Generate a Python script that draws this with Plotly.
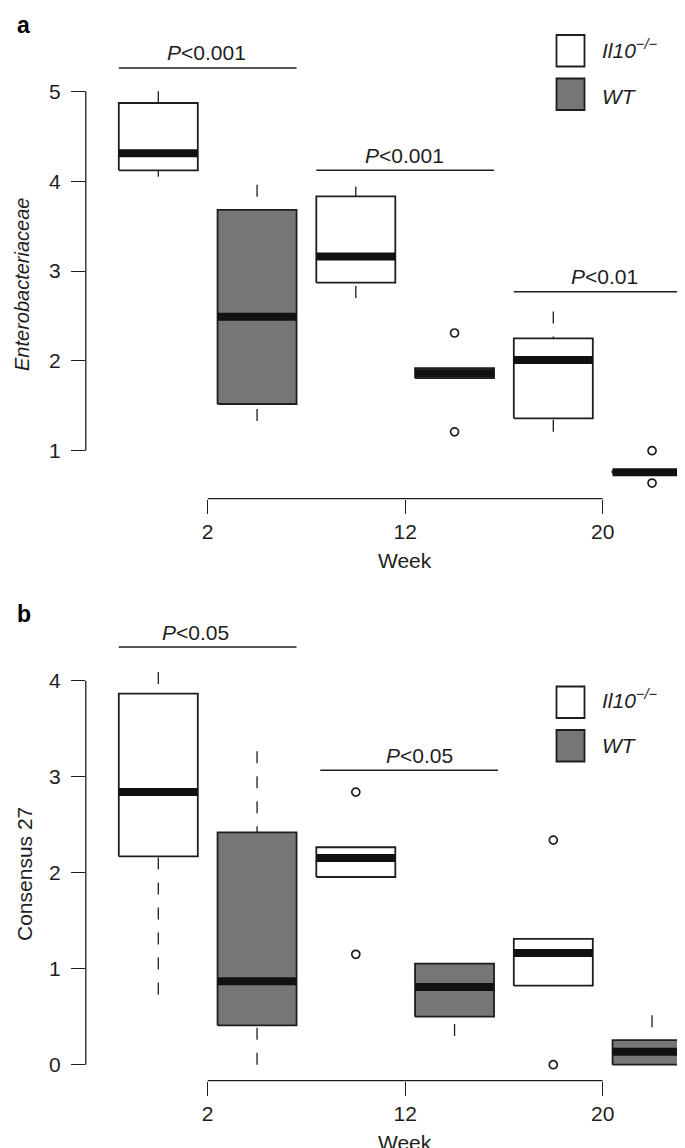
import plotly.graph_objects as go

W, H = 685, 1148
FONT = "Liberation Sans, Arial, sans-serif"
INK = "#1e1e1e"
GRAY = "#767678"

# ---------------- data ----------------
positions = [1, 2, 3, 4, 5, 6]
genotype = ["Il10", "WT", "Il10", "WT", "Il10", "WT"]
week_ticks = [1.5, 3.5, 5.5]
week_labels = ["2", "12", "20"]

# Panel a: Enterobacteriaceae
a_low = [4.05, 1.33, 2.70, 1.808, 1.21, 0.75]
a_q1 = [4.12, 1.52, 2.87, 1.808, 1.36, 0.75]
a_med = [4.31, 2.49, 3.16, 1.863, 2.01, 0.761]
a_q3 = [4.87, 3.68, 3.83, 1.918, 2.25, 0.772]
a_high = [5.00, 3.96, 3.94, 1.918, 2.55, 0.772]
a_out_pos = [4, 4, 6, 6]
a_out_val = [2.31, 1.21, 1.00, 0.64]
a_yticks = [1, 2, 3, 4, 5]
a_sig_x0 = [0.6, 2.6, 4.6]
a_sig_x1 = [2.4, 4.4, 6.45]
a_sig_y = [5.26, 4.12, 2.77]
a_sig_tx = [1.49, 3.49, 5.52]
a_sig_text = ["0.001", "0.001", "0.01"]

# Panel b: Consensus 27
b_low = [0.73, 0.0, 1.955, 0.30, 0.823, 0.0]
b_q1 = [2.17, 0.41, 1.955, 0.50, 0.823, 0.0]
b_med = [2.84, 0.87, 2.153, 0.81, 1.164, 0.135]
b_q3 = [3.865, 2.42, 2.265, 1.052, 1.31, 0.257]
b_high = [4.09, 3.265, 2.265, 1.052, 1.31, 0.515]
b_out_pos = [3, 3, 5, 5]
b_out_val = [2.84, 1.15, 2.34, 0.0]
b_yticks = [0, 1, 2, 3, 4]
b_sig_x0 = [0.6, 2.64]
b_sig_x1 = [2.4, 4.44]
b_sig_y = [4.35, 3.067]
b_sig_tx = [1.38, 3.64]
b_sig_text = ["0.05", "0.05"]

fill_for = {"Il10": "white", "WT": GRAY}

# ---------------- layout geometry (pixels) ----------------
x_left_px = 77.8
x_range = [0.2658, 6.4147]
# panel a: 1 -> 442.7px, 5 -> 83.3px
a_top_px, a_bot_px = 40.0, 490.7
a_ppu = (442.7 - 83.3) / 4
a_range = [1 - (a_bot_px - 442.7) / a_ppu, 1 + (442.7 - a_top_px) / a_ppu]
# panel b: 0 -> 1056.7px, 4 -> 672.7px
b_top_px, b_bot_px = 620.0, 1072.7
b_ppu = (1056.7 - 672.7) / 4
b_range = [0 - (b_bot_px - 1056.7) / b_ppu, 0 + (1056.7 - b_top_px) / b_ppu]


def py(px):
    return 1 - px / H


def pxx(px):
    return px / W


fig = go.Figure()
shapes = []
annotations = []


def add_panel(xa, ya, low, q1, med, q3, high, out_pos, out_val):
    for p, g, lo, a, m, b, hi in zip(positions, genotype, low, q1, med, q3, high):
        fig.add_trace(go.Scatter(
            x=[p - 0.4, p + 0.4, p + 0.4, p - 0.4, p - 0.4],
            y=[a, a, b, b, a], mode="lines", fill="toself",
            fillcolor=fill_for[g], line=dict(color=INK, width=1.8),
            xaxis=xa, yaxis=ya, hoverinfo="skip", showlegend=False))
        fig.add_trace(go.Scatter(
            x=[p - 0.4, p + 0.4], y=[m, m], mode="lines",
            line=dict(color="#111111", width=8),
            xaxis=xa, yaxis=ya, hoverinfo="skip", showlegend=False))
        for end, edge in ((lo, a), (hi, b)):
            if abs(end - edge) > 1e-9:
                fig.add_trace(go.Scatter(
                    x=[p, p], y=[end, edge], mode="lines",
                    line=dict(color=INK, width=1.3, dash="12px,13px"),
                    xaxis=xa, yaxis=ya, hoverinfo="skip", showlegend=False))
    fig.add_trace(go.Scatter(
        x=out_pos, y=out_val, mode="markers",
        marker=dict(symbol="circle-open", size=8, color=INK, line=dict(width=1.7)),
        xaxis=xa, yaxis=ya, hoverinfo="skip", showlegend=False, cliponaxis=False))


add_panel("x", "y", a_low, a_q1, a_med, a_q3, a_high, a_out_pos, a_out_val)
add_panel("x2", "y2", b_low, b_q1, b_med, b_q3, b_high, b_out_pos, b_out_val)


def sig(xr, yr, x0s, x1s, ys, txs, texts):
    for x0, x1, yv, tx, t in zip(x0s, x1s, ys, txs, texts):
        shapes.append(dict(type="line", xref=xr, yref=yr, x0=x0, x1=x1, y0=yv, y1=yv,
                           line=dict(color=INK, width=1.5)))
        annotations.append(dict(xref=xr, yref=yr, x=tx, y=yv, yshift=15,
                                text="<i>P</i>&lt;" + t, showarrow=False,
                                xanchor="center", yanchor="middle",
                                font=dict(family=FONT, size=21, color=INK)))


sig("x", "y", a_sig_x0, a_sig_x1, a_sig_y, a_sig_tx, a_sig_text)
sig("x2", "y2", b_sig_x0, b_sig_x1, b_sig_y, b_sig_tx, b_sig_text)

# R-style axis lines (span first to last tick only)
for xr, yr, yt in (("x", "y", a_yticks), ("x2", "y2", b_yticks)):
    shapes.append(dict(type="line", xref=xr, yref=yr + " domain", x0=week_ticks[0], x1=week_ticks[-1],
                       y0=0, y1=0, line=dict(color=INK, width=1.3)))
    shapes.append(dict(type="line", xref=xr + " domain", yref=yr, x0=0, x1=0,
                       y0=yt[0], y1=yt[-1], line=dict(color=INK, width=1.3)))


# legends
def legend(top1, top2, t1y, t2y):
    for top, col in ((top1, "white"), (top2, GRAY)):
        shapes.append(dict(type="rect", xref="paper", yref="paper",
                           x0=pxx(548.5), x1=pxx(576.5), y0=py(top + 31.5), y1=py(top),
                           fillcolor=col, line=dict(color=INK, width=1.8)))
    annotations.append(dict(xref="paper", yref="paper", x=pxx(592), y=py(t1y),
                            text="<i>Il10<sup>−/−</sup></i>", showarrow=False,
                            xanchor="left", yanchor="middle",
                            font=dict(family=FONT, size=21, color=INK)))
    annotations.append(dict(xref="paper", yref="paper", x=pxx(592), y=py(t2y),
                            text="<i>WT</i>", showarrow=False,
                            xanchor="left", yanchor="middle",
                            font=dict(family=FONT, size=21, color=INK)))


legend(27, 70.5, 41, 89)
legend(678.5, 722, 691, 737)

# panel letters
annotations.append(dict(xref="paper", yref="paper", x=pxx(16), y=py(17), text="<b>a</b>",
                        showarrow=False, xanchor="center", yanchor="middle",
                        font=dict(family=FONT, size=23, color="black")))
annotations.append(dict(xref="paper", yref="paper", x=pxx(16), y=py(606), text="<b>b</b>",
                        showarrow=False, xanchor="center", yanchor="middle",
                        font=dict(family=FONT, size=23, color="black")))

# axis titles
annotations.append(dict(xref="paper", yref="paper", x=pxx(14), y=py(277),
                        text="<i>Enterobacteriaceae</i>", textangle=-90, showarrow=False,
                        xanchor="center", yanchor="middle",
                        font=dict(family=FONT, size=20, color=INK)))
annotations.append(dict(xref="paper", yref="paper", x=pxx(16), y=py(866),
                        text="Consensus 27", textangle=-90, showarrow=False,
                        xanchor="center", yanchor="middle",
                        font=dict(family=FONT, size=21, color=INK)))
annotations.append(dict(xref="paper", yref="paper", x=pxx(397), y=py(552),
                        text="Week", showarrow=False, xanchor="center", yanchor="middle",
                        font=dict(family=FONT, size=21, color=INK)))
annotations.append(dict(xref="paper", yref="paper", x=pxx(397), y=py(1134),
                        text="Week", showarrow=False, xanchor="center", yanchor="middle",
                        font=dict(family=FONT, size=21, color=INK)))

xcommon = dict(range=x_range, domain=[pxx(x_left_px), 1], tickmode="array",
               tickvals=week_ticks, ticktext=week_labels, ticks="outside", ticklen=14,
               tickwidth=1.3, tickcolor=INK, showline=False, showgrid=False, zeroline=False,
               tickfont=dict(family=FONT, size=21, color=INK), fixedrange=True)
ycommon = dict(ticks="outside", ticklen=14, tickwidth=1.3, tickcolor=INK, showline=False,
               showgrid=False, zeroline=False, tickmode="array", ticklabelstandoff=6,
               tickfont=dict(family=FONT, size=21, color=INK), fixedrange=True)

fig.update_layout(
    width=W, height=H, autosize=False,
    margin=dict(l=0, r=0, t=0, b=0),
    paper_bgcolor="white", plot_bgcolor="rgba(0,0,0,0)",
    showlegend=False,
    xaxis=dict(anchor="y", **xcommon),
    yaxis=dict(anchor="x", domain=[py(a_bot_px), py(a_top_px)], range=a_range,
               tickvals=a_yticks, ticktext=[str(v) for v in a_yticks], **ycommon),
    xaxis2=dict(anchor="y2", **xcommon),
    yaxis2=dict(anchor="x2", domain=[py(b_bot_px), py(b_top_px)], range=b_range,
                tickvals=b_yticks, ticktext=[str(v) for v in b_yticks], **ycommon),
    shapes=shapes,
    annotations=annotations,
)

fig.write_html("out.html")
